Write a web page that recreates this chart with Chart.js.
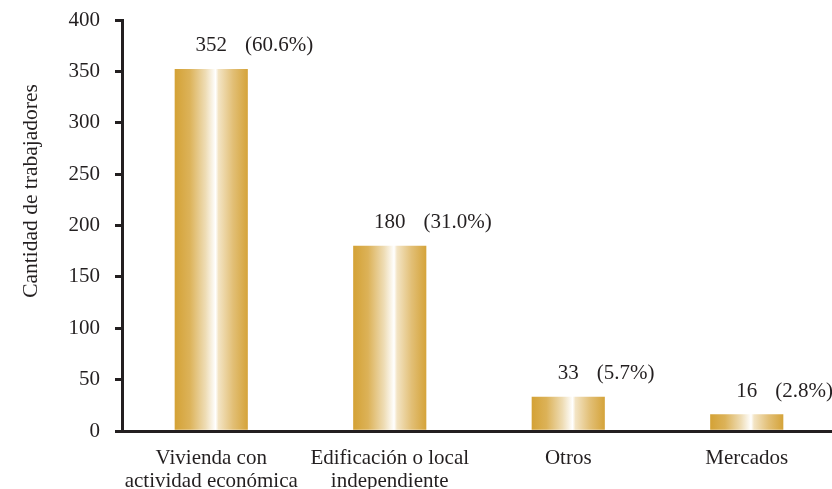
<!DOCTYPE html>
<html>
<head>
<meta charset="utf-8">
<script src="https://cdn.jsdelivr.net/npm/chart.js@4.4.1/dist/chart.umd.min.js"></script>
<style>
  html, body { margin: 0; padding: 0; background: #ffffff; overflow: hidden; }
  #wrap { position: relative; width: 836px; height: 489px; }
</style>
</head>
<body>
<div id="wrap"><canvas id="c" width="836" height="489"></canvas></div>
<script>
const categories = [["Vivienda con", "actividad económica"], ["Edificación o local", "independiente"], ["Otros"], ["Mercados"]];
const workers = [352, 180, 33, 16];
const shares = ["(60.6%)", "(31.0%)", "(5.7%)", "(2.8%)"];
const yMin = 0, yMax = 400, yStep = 50;
const yTitle = "Cantidad de trabajadores";

const FONT = "Liberation Serif, Times New Roman, serif";
const INK = "#231f20";

const gradientPlugin = {
  id: 'gradientBars',
  beforeDatasetsDraw(chart) {
    const ctx = chart.ctx;
    chart.getDatasetMeta(0).data.forEach(el => {
      const l = el.x - el.width / 2, r = el.x + el.width / 2;
      const g = ctx.createLinearGradient(l, 0, r, 0);
      g.addColorStop(0, '#d4a236');
      g.addColorStop(0.2, '#dcb258');
      g.addColorStop(0.42, '#eedcb4');
      g.addColorStop(0.56, '#ffffff');
      g.addColorStop(0.6, '#f3e4c4');
      g.addColorStop(0.8, '#e2bf76');
      g.addColorStop(1, '#d5a43b');
      el.options = Object.assign({}, el.options, { backgroundColor: g });
    });
  },
  afterDatasetsDraw(chart) {
    const ctx = chart.ctx;
    ctx.save();
    ctx.font = "21px " + FONT;
    ctx.fillStyle = INK;
    ctx.textBaseline = 'alphabetic';
    chart.getDatasetMeta(0).data.forEach((el, i) => {
      const num = String(chart.data.datasets[0].data[i]);
      const w = ctx.measureText(num).width;
      const y = el.y - 18;
      ctx.textAlign = 'center';
      ctx.fillText(num, el.x, y);
      ctx.textAlign = 'left';
      ctx.fillText(shares[i], el.x + w / 2 + 18, y);
    });
    // y-axis title
    ctx.translate(31, 191);
    ctx.rotate(-Math.PI / 2);
    ctx.textAlign = 'center';
    ctx.textBaseline = 'middle';
    ctx.font = "21.5px " + FONT;
    ctx.fillText(yTitle, 0, 0);
    ctx.restore();
  }
};

new Chart(document.getElementById('c'), {
  type: 'bar',
  data: {
    labels: categories,
    datasets: [{
      data: workers,
      backgroundColor: () => '#d4a236',
      borderWidth: 0,
      barThickness: 72.5
    }]
  },
  options: {
    responsive: false,
    animation: false,
    events: [],
    layout: { padding: { top: 20, left: 0, right: 0, bottom: 0 } },
    plugins: { legend: { display: false }, tooltip: { enabled: false } },
    scales: {
      x: {
        type: 'category',
        offset: true,
        grid: { display: false },
        border: { display: true, color: INK, width: 3 },
        ticks: {
          color: INK, font: { family: FONT, size: 21, lineHeight: 1.1 },
          padding: 8, maxRotation: 0, autoSkip: false
        },
        afterFit(s) { s.height = 58; s.paddingLeft = 0; s.paddingRight = 0; }
      },
      y: {
        min: yMin, max: yMax,
        grid: { display: true, drawOnChartArea: false, drawTicks: true, tickLength: 7, color: INK, lineWidth: 3 },
        border: { display: true, color: INK, width: 3 },
        ticks: {
          stepSize: yStep, color: INK, padding: 15,
          font: { family: FONT, size: 21 }
        },
        afterFit(s) { s.width = 122; s.paddingTop = 0; s.paddingBottom = 0; }
      }
    }
  },
  plugins: [gradientPlugin]
});
</script>
</body>
</html>
